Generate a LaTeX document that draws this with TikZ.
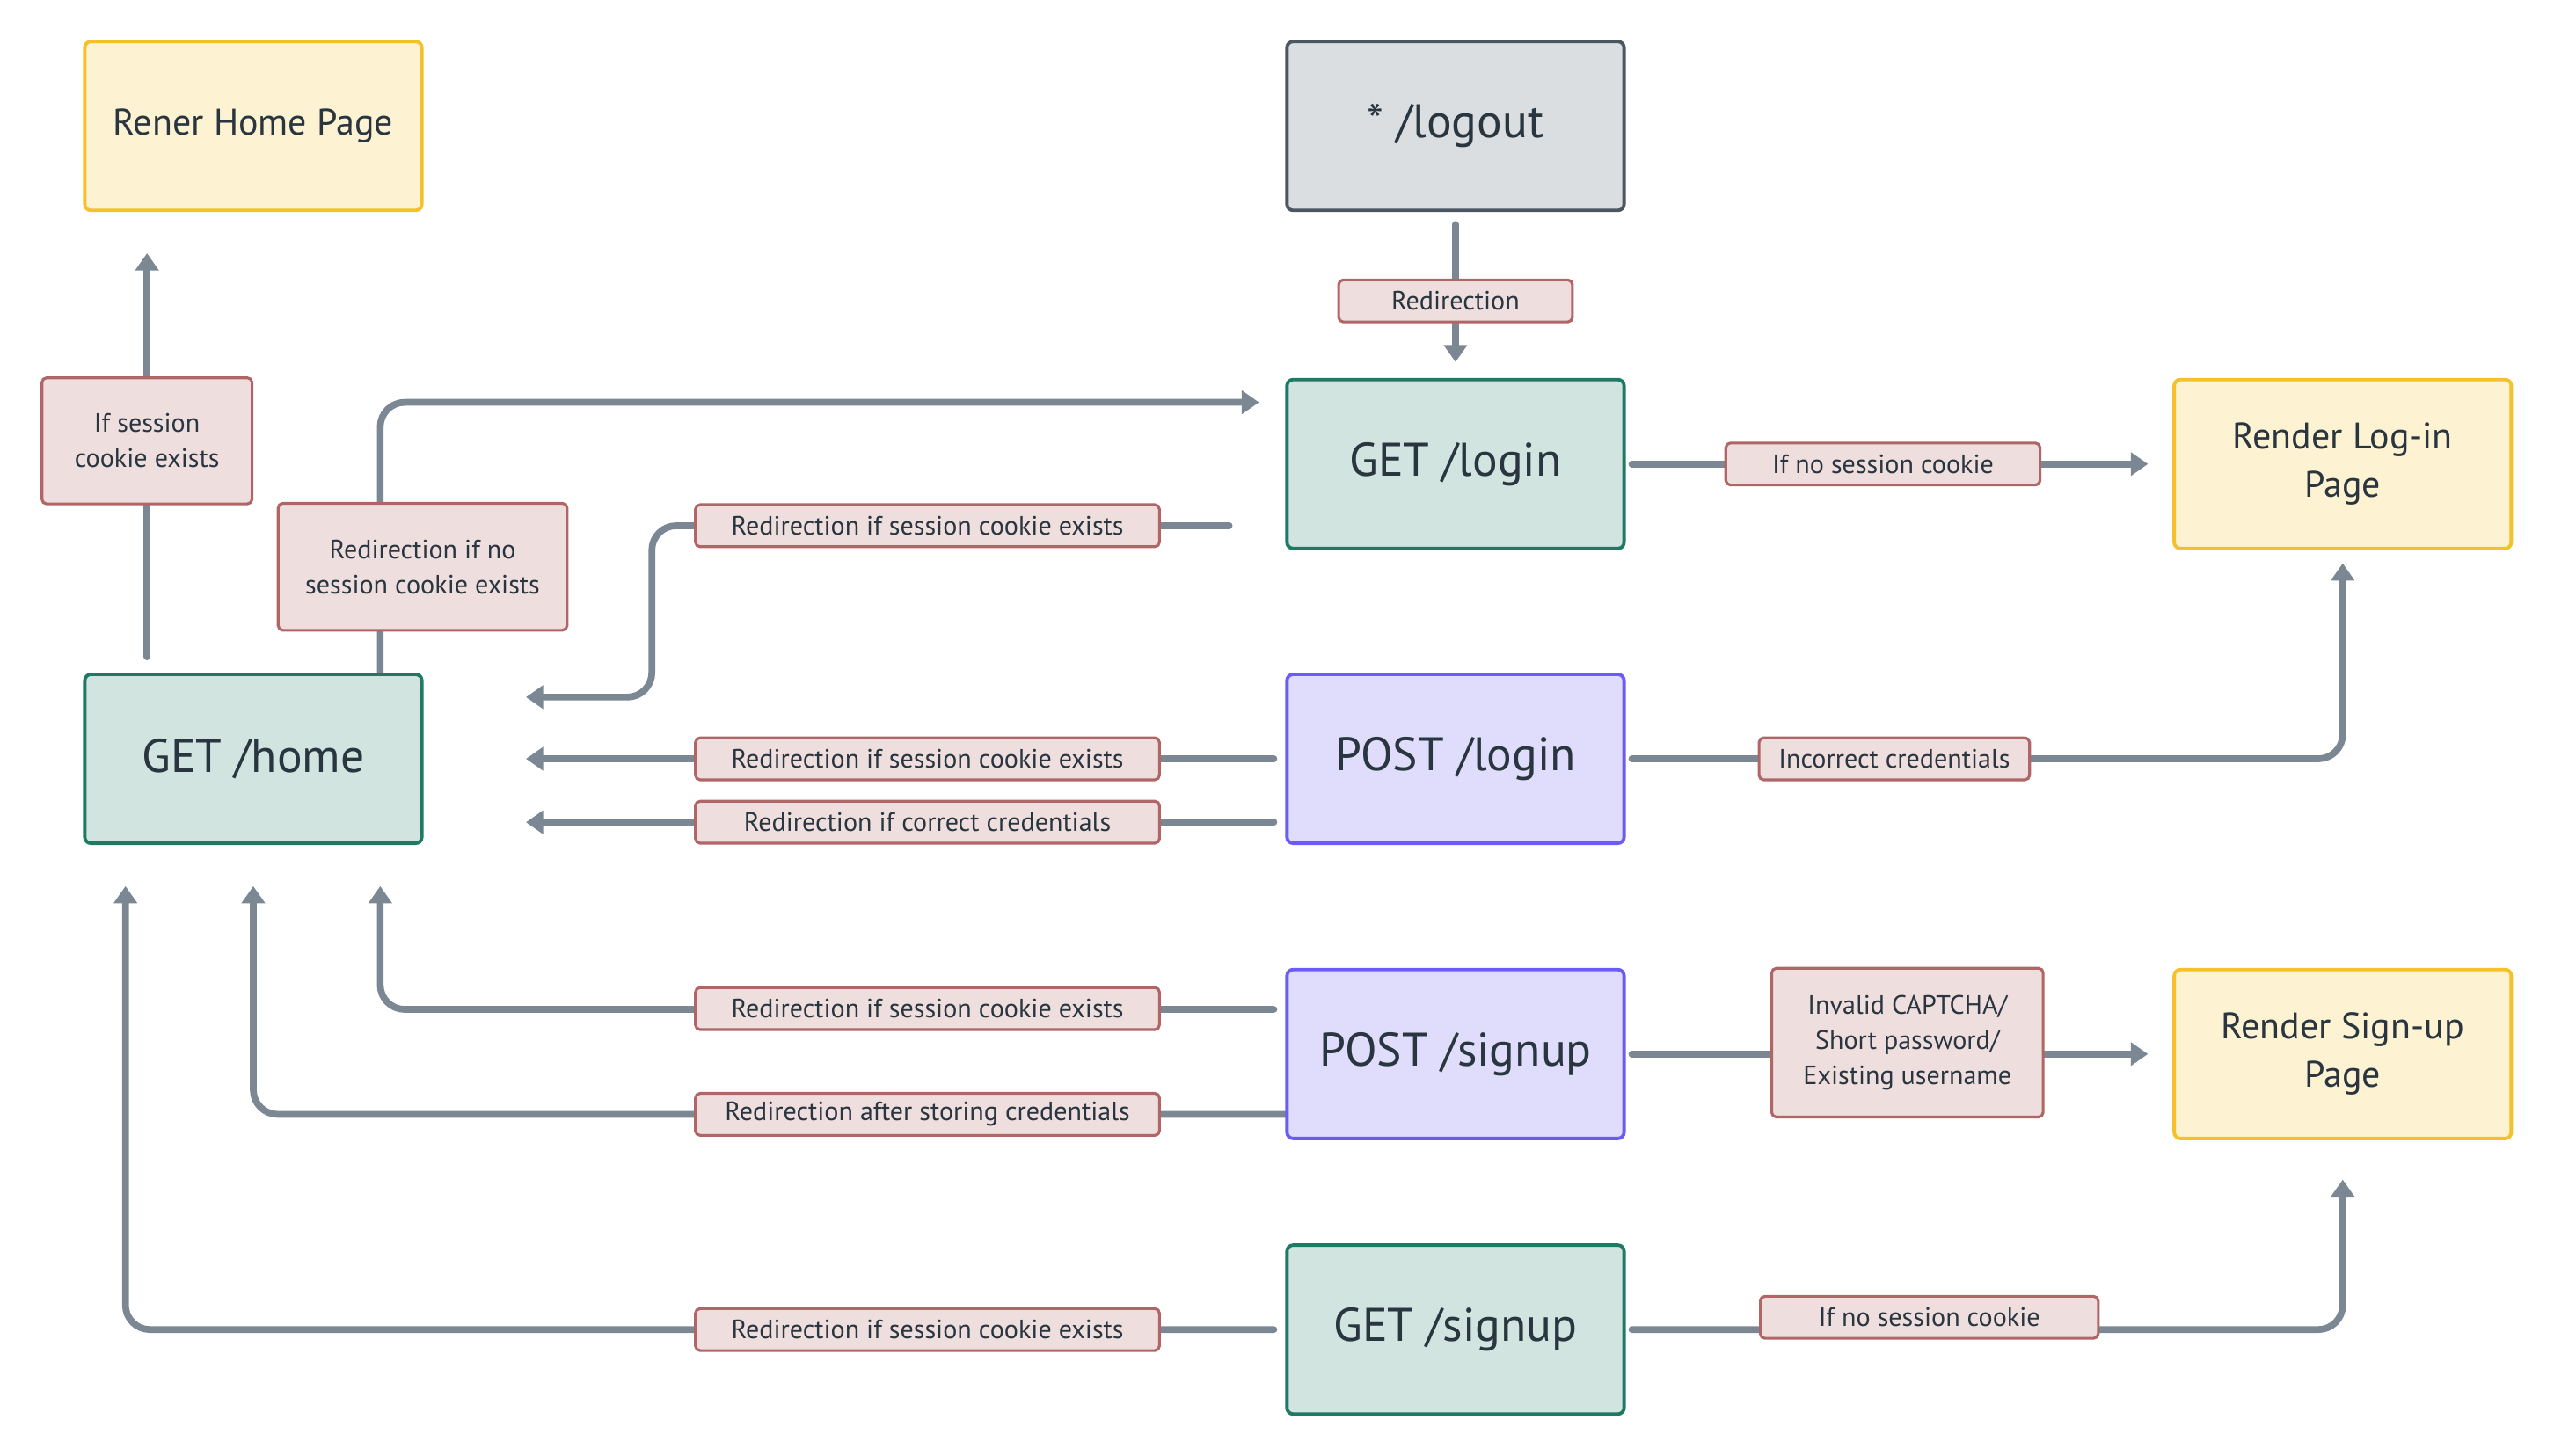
\documentclass[tikz,border=0pt]{standalone}
\usepackage{fontspec}
\setmainfont{PT Sans}
\usetikzlibrary{arrows.meta,backgrounds}
\definecolor{ink}{HTML}{29353F}
\definecolor{connline}{HTML}{7B8894}
\definecolor{condfill}{HTML}{EFDEDE}
\definecolor{condline}{HTML}{B06666}
\definecolor{pagefill}{HTML}{FDF2D2}
\definecolor{pageline}{HTML}{F6C02B}
\definecolor{getfill}{HTML}{D1E4E0}
\definecolor{getline}{HTML}{1E7A64}
\definecolor{postfill}{HTML}{E0DDFC}
\definecolor{postline}{HTML}{6C5CF5}
\definecolor{anyfill}{HTML}{DADEE1}
\definecolor{anyline}{HTML}{4B5661}

\begin{document}
\begin{tikzpicture}[x=0.01cm,y=-0.01cm]
\tikzstyle{every node}+=[inner sep=0pt, text=ink]
\tikzstyle{route}=[draw, line width=1.1pt, rounded corners=2pt, minimum width=3.85cm, minimum height=1.93cm, align=center, font=\fontsize{15.3}{18}\selectfont]
\tikzstyle{page}=[route, draw=pageline, fill=pagefill, font=\fontsize{12}{15.8}\selectfont]
\tikzstyle{getroute}=[route, draw=getline, fill=getfill]
\tikzstyle{postroute}=[route, draw=postline, fill=postfill]
\tikzstyle{anyroute}=[route, draw=anyline, fill=anyfill]
\tikzstyle{cond}=[draw=condline, fill=condfill, line width=0.9pt, rounded corners=1.5pt, align=center, minimum height=0.48cm, font=\fontsize{8.6}{11.5}\selectfont]
\tikzstyle{conn}=[draw=connline, line width=2.2pt, line cap=round, rounded corners=0.28cm, -{Triangle[width=7.4pt,length=5.6pt]}]
\useasboundingbox (0,0) rectangle (2919,1664.5);

\node [page] (renderhome) at (289.5,144) {Rener Home Page};
\node [anyroute] (logout) at (1663.5,144) {* /logout};
\node [getroute] (getlogin) at (1663.5,530.5) {GET /login};
\node [page] (renderlogin) at (2677.5,530.5) {Render Log-in\\Page};
\node [getroute] (home) at (289.5,867.5) {GET /home};
\node [postroute] (postlogin) at (1663.5,867.5) {POST /login};
\node [postroute] (postsignup) at (1663.5,1205) {POST /signup};
\node [page] (rendersignup) at (2677.5,1205) {Render Sign-up\\Page};
\node [getroute] (getsignup) at (1663.5,1520) {GET /signup};

\node [cond, minimum width=2.4cm, minimum height=1.44cm] (cookieyes) at (168,504) {If session\\cookie exists};
\node [cond, minimum width=3.3cm, minimum height=1.45cm] (nocookiehome) at (483,648) {Redirection if no\\session cookie exists};
\node [cond, minimum width=2.67cm] (logoutredir) at (1663.5,344) {Redirection};
\node [cond, minimum width=3.59cm] (loginnocookie) at (2152,530.5) {If no session cookie};
\node [cond, minimum width=5.3cm] (loginredir) at (1060,601) {Redirection if session cookie exists};
\node [cond, minimum width=5.3cm] (postloginredir) at (1060,867.5) {Redirection if session cookie exists};
\node [cond, minimum width=5.3cm] (credsok) at (1060,940) {Redirection if correct credentials};
\node [cond, minimum width=3.09cm] (credsbad) at (2165,867.5) {Incorrect credentials};
\node [cond, minimum width=3.1cm, minimum height=1.7cm] (signupbad) at (2180,1192) {Invalid CAPTCHA/\\Short password/\\Existing username};
\node [cond, minimum width=5.3cm] (postsignupredir) at (1060,1153) {Redirection if session cookie exists};
\node [cond, minimum width=5.3cm] (stored) at (1060,1274) {Redirection after storing credentials};
\node [cond, minimum width=3.86cm] (signupnocookie) at (2205,1506) {If no session cookie};
\node [cond, minimum width=5.3cm] (getsignupredir) at (1060,1520) {Redirection if session cookie exists};

\begin{pgfonlayer}{background}
\draw [conn, shorten <=0.18cm, shorten >=0.47cm] (cookieyes |- home.north) -- (cookieyes |- renderhome.south);
\draw [conn, shorten >=0.3cm] ([xshift=1.45cm]home.north) |- ([yshift=0.705cm]getlogin.west);
\draw [conn, shorten <=0.14cm, shorten >=0.18cm] (logout) -- (getlogin);
\draw [conn, shorten <=0.07cm, shorten >=0.28cm] (getlogin) -- (renderlogin);
\coordinate (bendlogin) at (745,797);
\draw [conn, shorten <=0.64cm, shorten >=1.17cm] ([yshift=-0.705cm]getlogin.west) -| (bendlogin) -- ([yshift=0.705cm]home.east);
\draw [conn, shorten <=0.13cm, shorten >=1.17cm] (postlogin) -- (home);
\draw [conn, shorten <=0.13cm, shorten >=1.17cm] ([yshift=-0.725cm]postlogin.west) -- ([yshift=-0.725cm]home.east);
\draw [conn, shorten <=0.07cm, shorten >=0.15cm] (postlogin.east) -| (renderlogin.south);
\draw [conn, shorten <=0.13cm, shorten >=0.47cm] ([yshift=0.51cm]postsignup.west) -| ([xshift=1.45cm]home.south);
\draw [conn, shorten >=0.47cm] ([yshift=-0.69cm]postsignup.west) -| (home.south);
\draw [conn, shorten <=0.07cm, shorten >=0.28cm] (postsignup) -- (rendersignup);
\draw [conn, shorten <=0.13cm, shorten >=0.47cm] (getsignup.west) -| ([xshift=-1.46cm]home.south);
\draw [conn, shorten <=0.07cm, shorten >=0.45cm] (getsignup.east) -| (rendersignup.south);
\end{pgfonlayer}
\end{tikzpicture}
\end{document}
